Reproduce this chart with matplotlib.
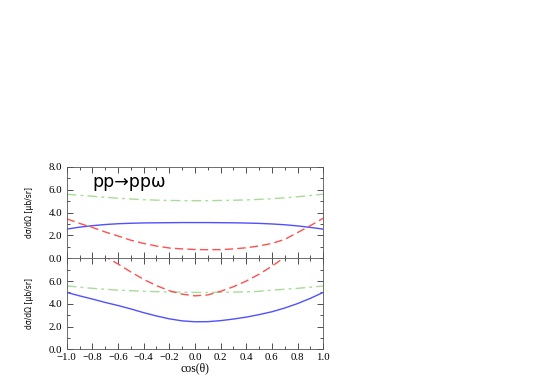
import matplotlib
matplotlib.use("Agg")
import matplotlib.pyplot as plt
from matplotlib.ticker import MultipleLocator, FuncFormatter

# ---- data ----
cos_theta = [-1.0, -0.9, -0.8, -0.7, -0.6, -0.5, -0.4, -0.3, -0.2, -0.1, 0.0,
             0.1, 0.2, 0.3, 0.4, 0.5, 0.6, 0.7, 0.8, 0.9, 1.0]

top_blue = [2.55, 2.72, 2.85, 2.95, 3.02, 3.06, 3.09, 3.10, 3.11, 3.12, 3.12,
            3.12, 3.11, 3.10, 3.08, 3.05, 3.00, 2.93, 2.83, 2.70, 2.55]
top_red = [3.45, 3.05, 2.70, 2.30, 1.95, 1.58, 1.30, 1.07, 0.90, 0.82, 0.77,
           0.75, 0.76, 0.82, 0.92, 1.08, 1.30, 1.65, 2.25, 2.85, 3.50]
top_green = [5.60, 5.50, 5.42, 5.33, 5.25, 5.18, 5.12, 5.08, 5.05, 5.04, 5.03,
             5.03, 5.05, 5.07, 5.10, 5.15, 5.20, 5.28, 5.38, 5.48, 5.60]

bot_blue = [5.00, 4.70, 4.42, 4.12, 3.85, 3.55, 3.22, 2.93, 2.68, 2.50, 2.42,
            2.43, 2.52, 2.66, 2.83, 3.05, 3.30, 3.63, 4.02, 4.48, 5.00]
bot_red_x = [-0.72, -0.7, -0.6, -0.5, -0.4, -0.3, -0.2, -0.1, 0.0, 0.1, 0.2,
             0.3, 0.4, 0.5, 0.6, 0.7, 0.72]
bot_red = [8.30, 8.15, 7.50, 6.80, 6.15, 5.60, 5.15, 4.85, 4.70, 4.78, 5.10,
           5.50, 6.00, 6.60, 7.30, 8.10, 8.30]
bot_green = [5.58, 5.46, 5.36, 5.28, 5.20, 5.15, 5.10, 5.07, 5.04, 5.02, 5.00,
             5.00, 5.01, 5.03, 5.05, 5.10, 5.20, 5.28, 5.36, 5.46, 5.56]

title = "pp\u2192pp\u03c9"
ylab = "d\u03c3/d\u03a9 [\u03bcb/sr]"
xlab = "cos(\u03b8)"

BLUE = "#5050ff"
RED = "#ff5050"
GREEN = "#a8dc98"

fig = plt.figure(figsize=(5.45, 3.82), dpi=100)
L, R = 0.1224, 0.593
ax_top = fig.add_axes([L, 0.3238, R - L, 0.5636 - 0.3238])
ax_bot = fig.add_axes([L, 0.0856, R - L, 0.3238 - 0.0856])

serif = "Liberation Serif"
fmt = FuncFormatter(lambda v, p: ("%.1f" % v).replace("-", "\u2212"))

for ax in (ax_top, ax_bot):
    ax.set_xlim(-1.0, 1.0)
    ax.set_ylim(0.0, 8.0)
    ax.xaxis.set_major_locator(MultipleLocator(0.2))
    ax.xaxis.set_minor_locator(MultipleLocator(0.1))
    ax.yaxis.set_major_locator(MultipleLocator(2.0))
    ax.yaxis.set_minor_locator(MultipleLocator(1.0))
    ax.yaxis.set_major_formatter(fmt)
    ax.xaxis.set_major_formatter(fmt)
    ax.tick_params(which="both", direction="in", top=True, right=True,
                   width=0.6, colors="#333333", labelcolor="black")
    ax.tick_params(which="major", length=4, labelsize=7.8, pad=3)
    ax.tick_params(which="minor", length=2)
    for s in ax.spines.values():
        s.set_linewidth(0.6)
        s.set_color("#555555")
    ax.set_ylabel(ylab, fontsize=5.5, family="DejaVu Sans", labelpad=11)

ax_top.tick_params(labelbottom=False)

# top panel
ax_top.plot(cos_theta, top_green, color=GREEN, lw=1.0, ls=(0, (7, 3, 2, 3)))
ax_top.plot(cos_theta, top_blue, color=BLUE, lw=1.0)
ax_top.plot(cos_theta, top_red, color=RED, lw=1.0, ls=(0, (6, 3)))
ax_top.text(0.10, 0.835, title, transform=ax_top.transAxes, fontsize=12.5,
            family="DejaVu Sans", va="center", ha="left")

# bottom panel
ax_bot.plot(cos_theta, bot_green, color=GREEN, lw=1.0, ls=(0, (7, 3, 2, 3)))
ax_bot.plot(cos_theta, bot_blue, color=BLUE, lw=1.0)
ax_bot.plot(bot_red_x, bot_red, color=RED, lw=1.0, ls=(0, (6, 3)))
ax_bot.set_yticks([0.0, 2.0, 4.0, 6.0])
ax_bot.yaxis.set_major_formatter(fmt)
ax_bot.set_xlabel(xlab, fontsize=8.5, family=serif, labelpad=0)

for ax in (ax_top, ax_bot):
    for lab in ax.get_yticklabels() + ax.get_xticklabels():
        lab.set_family(serif)

fig.savefig("out.png", dpi=100)
